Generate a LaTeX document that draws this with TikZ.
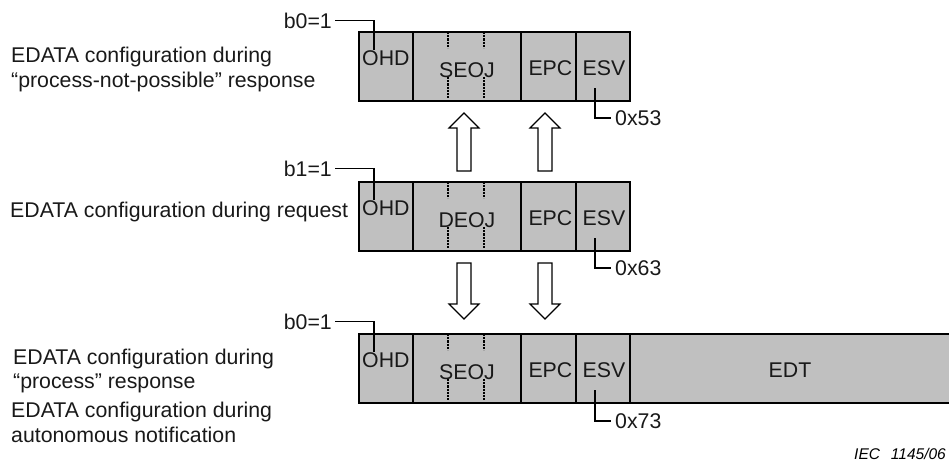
\documentclass[tikz,border=0pt]{standalone}
\usepackage{fontspec}
\setmainfont{Liberation Sans}
\definecolor{cellgray}{HTML}{C0C0C0}
\begin{document}
\begin{tikzpicture}[x=1pt,y=-1pt,
  cell/.style={draw=black, line width=1.8pt, fill=cellgray, inner sep=0pt,
    minimum height=69pt, anchor=north west},
  lbl/.style={font=\fontsize{21.3}{25}\selectfont, inner sep=0pt, text=black!90},
  note/.style={font=\fontsize{15.5}{18}\selectfont\itshape, inner sep=0pt},
  lead/.style={draw=black, line width=1.3pt},
  split/.style={draw=black, line width=1.3pt, dash pattern=on 2.2pt off 1pt},
  blk/.style={draw=black, line width=1.2pt, fill=white, line join=miter},
  uparrow/.pic={\path[blk] (0,0) -- (15,15) -- (7,15) -- (7,58) -- (-7,58)
      -- (-7,15) -- (-15,15) -- cycle;},
  downarrow/.pic={\path[blk] (0,0) -- (15,-15) -- (7,-15) -- (7,-56) -- (-7,-56)
      -- (-7,-15) -- (-15,-15) -- cycle;}]
\clip (0,0) rectangle (949,463);
\useasboundingbox (0,0) rectangle (949,463);

% one EDATA frame: OHD | xEOJ | EPC | ESV, top edge at #2
\newcommand{\edataframe}[3]{%
  \node[cell, minimum width=54pt]  (#1ohd) at (358,#2) {};
  \node[cell, minimum width=108pt] (#1eoj) at (412,#2) {};
  \node[cell, minimum width=55pt]  (#1epc) at (520,#2) {};
  \node[cell, minimum width=54pt]  (#1esv) at (575,#2) {};
  \node[lbl, anchor=base] (#1ohdtxt) at ([yshift=-34pt]#1ohd.north) {OHD};
  \node[lbl, anchor=base] (#1eojtxt) at ([yshift=-46pt]#1eoj.north) {#3};
  \node[lbl, anchor=base] (#1epctxt) at ([xshift=2pt,yshift=-44pt]#1epc.north) {EPC};
  \node[lbl, anchor=base] (#1esvtxt) at ([xshift=1pt,yshift=-44pt]#1esv.north) {ESV};
  \draw[split] ([xshift=36pt,yshift=-1pt]#1eoj.north west) -- ++(0,16);
  \draw[split] ([xshift=72pt,yshift=-1pt]#1eoj.north west) -- ++(0,16);
  \draw[split] ([xshift=36pt,yshift=-46pt]#1eoj.north west) -- ++(0,21);
  \draw[split] ([xshift=72pt,yshift=-46pt]#1eoj.north west) -- ++(0,21);
}

% "process-not-possible" response
\edataframe{A}{31}{SEOJ}
% request
\edataframe{B}{181}{DEOJ}
% "process" response / autonomous notification
\node[cell, minimum width=331pt] (Cedt) at (629,333) {};
\edataframe{C}{333}{SEOJ}
\node[lbl, anchor=base] (Cedttxt) at (790,377) {EDT};

% captions
\node[lbl, anchor=base west] (capA1) at (11,62) {EDATA configuration during};
\node[lbl, anchor=base west] (capA2) at (11,87) {“process-not-possible” response};
\node[lbl, anchor=base west] (capB)  at (10,217) {EDATA configuration during request};
\node[lbl, anchor=base west] (capC1) at (13,364) {EDATA configuration during};
\node[lbl, anchor=base west] (capC2) at (13,388) {“process” response};
\node[lbl, anchor=base west] (capD1) at (11,417) {EDATA configuration during};
\node[lbl, anchor=base west] (capD2) at (11,442) {autonomous notification};

% header bit leaders
\node[lbl, anchor=base east] (bitA) at (332,28)  {b0=1};
\node[lbl, anchor=base east] (bitB) at (332,176) {b1=1};
\node[lbl, anchor=base east] (bitC) at (332,329) {b0=1};
\draw[lead] ([xshift=3pt]bitA.east) -| ([xshift=16pt,yshift=-19pt]Aohd.north west);
\draw[lead] ([xshift=3pt]bitB.east) -| ([xshift=16pt,yshift=-19pt]Bohd.north west);
\draw[lead] ([xshift=3pt]bitC.east) -| ([xshift=16pt,yshift=-19pt]Cohd.north west);

% ESV code leaders
\node[lbl, anchor=west] (hexA) at (615,118) {0x53};
\node[lbl, anchor=west] (hexB) at (615,268) {0x63};
\node[lbl, anchor=west] (hexC) at (615,421) {0x73};
\draw[lead] ([xshift=-8pt,yshift=-57pt]Aesv.north) |- ([xshift=-4pt]hexA.west);
\draw[lead] ([xshift=-8pt,yshift=-57pt]Besv.north) |- ([xshift=-4pt]hexB.west);
\draw[lead] ([xshift=-8pt,yshift=-57pt]Cesv.north) |- ([xshift=-4pt]hexC.west);

% block arrows between the frames
\pic at (464,113) {uparrow};
\pic at (545,113) {uparrow};
\pic at (464,319) {downarrow};
\pic at (545,319) {downarrow};

\node[note, anchor=base east] (iec) at (946,459) {IEC\hspace{0.7em}1145/06};
\end{tikzpicture}
\end{document}
